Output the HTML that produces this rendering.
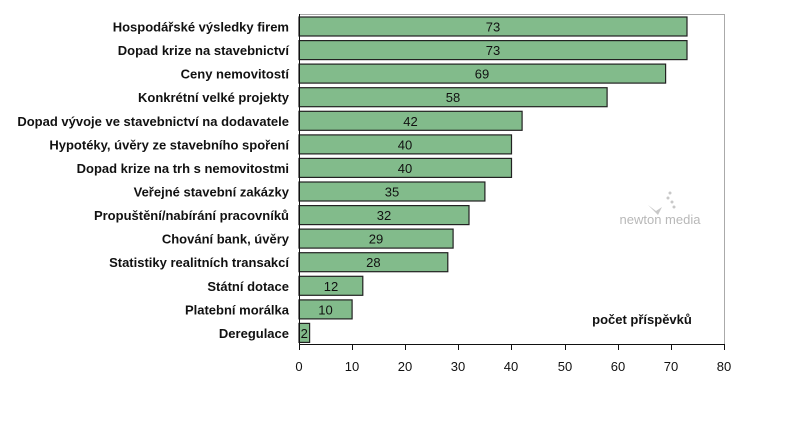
<!DOCTYPE html>
<html><head><meta charset="utf-8"><style>body{margin:0;background:#fff}</style></head><body>
<svg width="800" height="432" xmlns="http://www.w3.org/2000/svg" font-family="Liberation Sans, DejaVu Sans, sans-serif">
<rect width="800" height="432" fill="#fff"/>
<line x1="299" y1="14.5" x2="724" y2="14.5" stroke="#aaa"/>
<line x1="724.5" y1="14" x2="724.5" y2="344" stroke="#aaa"/>
<g fill="#b8b8b8" font-size="13" text-anchor="middle"><text x="660" y="224">newton media</text></g>
<g fill="#c8c8c8"><path d="M648 205 l8 6 l6 -4 l-4 8 z"/><circle cx="668" cy="198" r="1.5"/><circle cx="672" cy="202" r="1.5"/><circle cx="674" cy="207" r="1.5"/><circle cx="670" cy="193" r="1.5"/></g>
<g id="bars" stroke="#222" stroke-width="1.2" fill="#82bb8b">
<rect x="299" y="17" width="388" height="19"/>
<rect x="299" y="40.6" width="388" height="19"/>
<rect x="299" y="64.1" width="366.6" height="19"/>
<rect x="299" y="87.7" width="308.1" height="19"/>
<rect x="299" y="111.3" width="223.1" height="19"/>
<rect x="299" y="134.9" width="212.5" height="19"/>
<rect x="299" y="158.4" width="212.5" height="19"/>
<rect x="299" y="182" width="185.9" height="19"/>
<rect x="299" y="205.6" width="170" height="19"/>
<rect x="299" y="229.1" width="154.1" height="19"/>
<rect x="299" y="252.7" width="148.8" height="19"/>
<rect x="299" y="276.3" width="63.8" height="19"/>
<rect x="299" y="299.9" width="53.1" height="19"/>
<rect x="299" y="323.4" width="10.6" height="19"/>
</g>
<g font-size="13" fill="#111" text-anchor="middle">
<text x="493" y="31.5">73</text><text x="493" y="55.1">73</text><text x="482" y="78.6">69</text><text x="453" y="102.2">58</text>
<text x="410.5" y="125.8">42</text><text x="405" y="149.4">40</text><text x="405" y="172.9">40</text><text x="392" y="196.5">35</text>
<text x="384" y="220.1">32</text><text x="376" y="243.6">29</text><text x="373.4" y="267.2">28</text><text x="331" y="290.8">12</text>
<text x="325.5" y="314.4">10</text><text x="304.3" y="337.9">2</text>
</g>
<g font-size="13" font-weight="bold" fill="#111" text-anchor="end">
<text x="289" y="31.5">Hospodářské výsledky firem</text>
<text x="289" y="55.1">Dopad krize na stavebnictví</text>
<text x="289" y="78.6">Ceny nemovitostí</text>
<text x="289" y="102.2">Konkrétní velké projekty</text>
<text x="289" y="125.8">Dopad vývoje ve stavebnictví na dodavatele</text>
<text x="289" y="149.4">Hypotéky, úvěry ze stavebního spoření</text>
<text x="289" y="172.9">Dopad krize na trh s nemovitostmi</text>
<text x="289" y="196.5">Veřejné stavební zakázky</text>
<text x="289" y="220.1">Propuštění/nabírání pracovníků</text>
<text x="289" y="243.6">Chování bank, úvěry</text>
<text x="289" y="267.2">Statistiky realitních transakcí</text>
<text x="289" y="290.8">Státní dotace</text>
<text x="289" y="314.4">Platební morálka</text>
<text x="289" y="337.9">Deregulace</text>
</g>
<text x="642" y="324" font-size="13" font-weight="bold" fill="#111" text-anchor="middle">počet příspěvků</text>
<g stroke="#111" stroke-width="1">
<line x1="299.5" y1="14" x2="299.5" y2="344"/>
<line x1="299" y1="344.5" x2="725" y2="344.5"/>
<line x1="299.5" y1="344" x2="299.5" y2="350"/><line x1="352.5" y1="344" x2="352.5" y2="350"/>
<line x1="405.5" y1="344" x2="405.5" y2="350"/><line x1="458.5" y1="344" x2="458.5" y2="350"/>
<line x1="511.5" y1="344" x2="511.5" y2="350"/><line x1="565.5" y1="344" x2="565.5" y2="350"/>
<line x1="618.5" y1="344" x2="618.5" y2="350"/><line x1="671.5" y1="344" x2="671.5" y2="350"/>
<line x1="724.5" y1="344" x2="724.5" y2="350"/>
</g>
<g font-size="13" fill="#111" text-anchor="middle">
<text x="299" y="371">0</text><text x="352" y="371">10</text><text x="405" y="371">20</text><text x="458" y="371">30</text>
<text x="511" y="371">40</text><text x="565" y="371">50</text><text x="618" y="371">60</text><text x="671" y="371">70</text><text x="724" y="371">80</text>
</g>
</svg>
</body></html>
